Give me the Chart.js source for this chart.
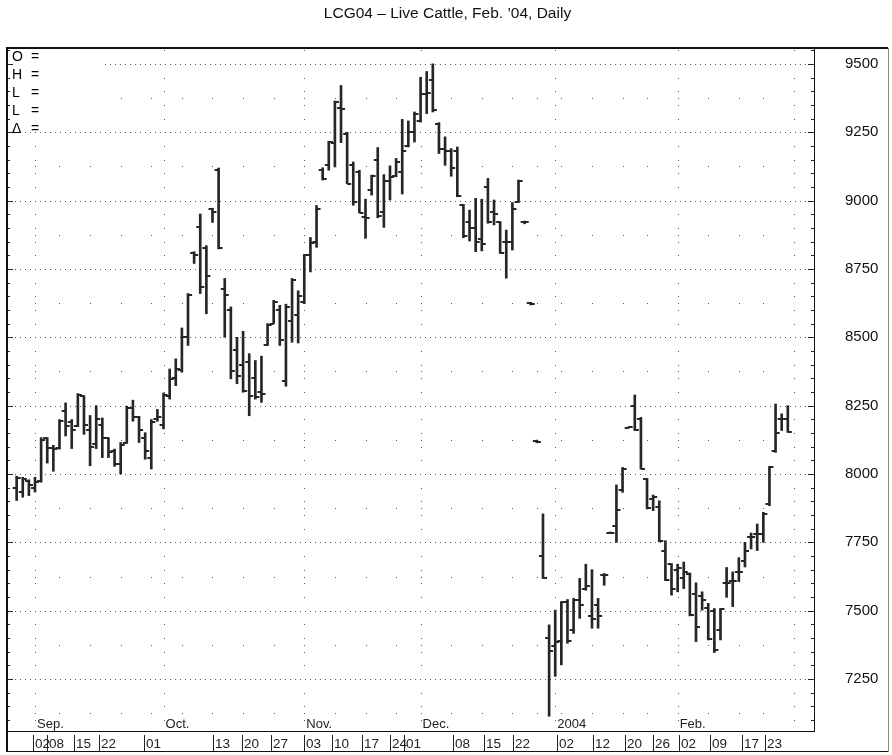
<!DOCTYPE html>
<html><head><meta charset="utf-8">
<script src="https://cdn.jsdelivr.net/npm/chart.js@4.4.0/dist/chart.umd.min.js"></script>
<style>html,body{margin:0;padding:0;background:#fff;}canvas{display:block;}</style>
</head><body>
<canvas id="c" width="892" height="755"></canvas>
<script>
// ---------- data ----------
const dates = [
 '2003-08-27','2003-08-28','2003-08-29',
 '2003-09-02','2003-09-03','2003-09-04','2003-09-05','2003-09-08','2003-09-09','2003-09-10','2003-09-11','2003-09-12','2003-09-15','2003-09-16','2003-09-17','2003-09-18','2003-09-19','2003-09-22','2003-09-23','2003-09-24','2003-09-25','2003-09-26','2003-09-29','2003-09-30',
 '2003-10-01','2003-10-02','2003-10-03','2003-10-06','2003-10-07','2003-10-08','2003-10-09','2003-10-10','2003-10-13','2003-10-14','2003-10-15','2003-10-16','2003-10-17','2003-10-20','2003-10-21','2003-10-22','2003-10-23','2003-10-24','2003-10-27','2003-10-28','2003-10-29','2003-10-30','2003-10-31',
 '2003-11-03','2003-11-04','2003-11-05','2003-11-06','2003-11-07','2003-11-10','2003-11-11','2003-11-12','2003-11-13','2003-11-14','2003-11-17','2003-11-18','2003-11-19','2003-11-20','2003-11-21','2003-11-24','2003-11-25','2003-11-26','2003-11-28',
 '2003-12-01','2003-12-02','2003-12-03','2003-12-04','2003-12-05','2003-12-08','2003-12-09','2003-12-10','2003-12-11','2003-12-12','2003-12-15','2003-12-16','2003-12-17','2003-12-18','2003-12-19','2003-12-22','2003-12-23','2003-12-24','2003-12-26','2003-12-29','2003-12-30','2003-12-31',
 '2004-01-02','2004-01-05','2004-01-06','2004-01-07','2004-01-08','2004-01-09','2004-01-12','2004-01-13','2004-01-14','2004-01-15','2004-01-16','2004-01-20','2004-01-21','2004-01-22','2004-01-23','2004-01-26','2004-01-27','2004-01-28','2004-01-29','2004-01-30',
 '2004-02-02','2004-02-03','2004-02-04','2004-02-05','2004-02-06','2004-02-09','2004-02-10','2004-02-11','2004-02-12','2004-02-13','2004-02-17','2004-02-18','2004-02-19','2004-02-20','2004-02-23','2004-02-24','2004-02-25','2004-02-26','2004-02-27'
];
const opens = [
 7950,7935,7975,7950,7975,8130,8095,8095,8230,8190,8175,8285,8160,8110,8180,8130,8085,8035,8115,8240,8210,8130,8060,8200,
 8180,8285,8350,8380,8500,8810,8902,8825,8970,9110,8678,8600,8452,8400,8409,8350,8300,8470,8550,8600,8340,8560,8580,
 8630,8800,8850,9110,9130,9212,9340,9245,9130,9105,8940,9040,9150,8960,9070,9090,9105,9200,9250,
 9290,9390,9440,9280,9190,9180,9180,8985,8920,8900,8860,9050,8960,8920,8850,8850,8995,8920,8625,8120,7700,7400,
 7370,7390,7530,7430,7540,7580,7480,7520,7630,7785,7810,7940,8170,8250,8200,7980,7910,7880,7720,7670,
 7650,7620,7636,7560,7555,7510,7500,7430,7600,7610,7640,7680,7770,7780,7780,7890,8085,8200,8200
];
const highs = [
 7992,7988,7979,7988,8133,8133,8105,8199,8260,8199,8294,8286,8214,8250,8205,8133,8091,8115,8248,8270,8211,8151,8199,8236,
 8296,8384,8421,8534,8660,8813,8951,8835,8972,9119,8715,8611,8500,8522,8440,8415,8431,8550,8635,8617,8621,8715,8670,
 8803,8865,8982,9120,9217,9364,9421,9250,9141,9111,9005,9093,9194,9095,9127,9154,9297,9291,9324,
 9451,9472,9500,9285,9233,9190,9196,8986,8965,9008,9005,9081,9002,8923,8892,8993,9075,8925,8628,8124,7854,7448,
 7502,7533,7541,7545,7618,7670,7650,7545,7636,7788,7960,8024,8173,8289,8207,7984,7923,7902,7756,7672,
 7670,7678,7638,7602,7569,7527,7508,7508,7658,7642,7694,7750,7784,7817,7860,8028,8256,8220,8250
];
const lows = [
 7903,7915,7921,7934,7970,8040,8010,8091,8139,8093,8173,8145,8030,8093,8060,8060,8028,8000,8112,8193,8115,8054,8018,8193,
 8165,8274,8323,8372,8470,8770,8660,8586,8920,8823,8500,8348,8330,8299,8213,8274,8262,8470,8550,8470,8321,8482,8479,
 8623,8739,8829,9075,9111,9123,9212,9062,8983,8955,8862,9020,8937,8902,9002,9087,9024,9196,9214,
 9287,9318,9324,9172,9129,9089,9014,8864,8852,8813,8816,8917,8911,8807,8716,8819,8993,8915,8618,8114,7618,7114,
 7260,7302,7381,7417,7472,7575,7436,7436,7593,7782,7750,7933,8168,8159,8018,7872,7866,7752,7610,7557,
 7569,7581,7481,7387,7502,7393,7347,7393,7549,7515,7606,7660,7726,7720,7750,7884,8079,8159,8152
];
const closes = [
 7985,7982,7960,7970,8125,8095,8090,8195,8175,8160,8290,8180,8100,8200,8130,8080,8035,8105,8240,8210,8160,8085,8190,8210,
 8290,8348,8384,8500,8655,8800,8684,8723,8960,8825,8654,8378,8360,8305,8287,8280,8293,8545,8630,8490,8610,8710,8650,
 8800,8845,8970,9080,9214,9360,9336,9062,8995,8955,8935,9090,8945,9070,9085,9140,9180,9250,9315,
 9390,9395,9330,9190,9180,9120,9015,8870,8900,8850,8840,8920,8950,8810,8850,8970,9070,8920,8622,8118,7618,7354,
 7385,7530,7390,7540,7520,7590,7470,7480,7630,7785,7870,8020,8171,8160,8020,7875,7915,7755,7612,7580,
 7655,7640,7483,7440,7540,7395,7355,7505,7600,7610,7640,7720,7770,7780,7855,8025,8150,8200,8152
];
const yTickVals = [7250,7500,7750,8000,8250,8500,8750,9000,9250,9500];
const monthStartIdx = [3,24,47,66,88,108,127];
const monthLabels = ['Sep.','Oct.','Nov.','Dec.','2004','Feb.',''];
const weekLabels = ['02','08','15','22','01','13','20','27','03','10','17','24','01','08','15','22','02','12','20','26','02','09','17','23'];
const weekLabelPos = [2.7,4.9,9.4,13.5,20.8,32.1,36.9,41.5,47.0,51.6,56.4,61.0,63.3,71.3,76.4,81.1,88.3,94.2,99.4,104.0,108.3,113.3,118.5,122.3];
const legendRows = ['O','H','L','L','\u0394'];
const titleText = 'LCG04 \u2013 Live Cattle, Feb. \u201904, Daily';

// ---------- derived ----------
const idx = dates.map((d, i) => i);
const dayNum = dates.map(d => new Date(d + 'T00:00:00Z').getTime() / 86400000);
const weekStarts = idx.filter(i => i > 0 && dayNum[i] - dayNum[i - 1] >= 3);

const INK = '#262626';
const GRID = '#5a5a5a';
const FONT = '"Liberation Sans", Arial, Helvetica, sans-serif';

function tickImage(side) {
  const c = document.createElement('canvas');
  c.width = 10; c.height = 2;
  const g = c.getContext('2d');
  g.fillStyle = INK;
  if (side === 'L') g.fillRect(1, 0, 4, 2); else g.fillRect(5, 0, 4, 2);
  return c;
}

const decor = {
  id: 'decor',
  beforeDatasetsDraw(chart) {
    const {ctx, chartArea: a, scales: {x, y}} = chart;
    ctx.save();
    ctx.fillStyle = GRID;
    for (const v of yTickVals) {
      const py = Math.round(y.getPixelForValue(v));
      for (let px = a.left + 3; px < a.right - 1; px += 5) ctx.fillRect(px, py, 1, 1);
    }
    for (let v = yTickVals[0] - 125; v < y.max; v += 250) {
      if (v <= y.min) continue;
      const py = Math.round(y.getPixelForValue(v));
      for (const j of weekStarts) ctx.fillRect(Math.round(x.getPixelForValue(j)), py, 1, 1);
    }
    const v0 = Math.ceil(y.min / 50) * 50;
    for (const j of monthStartIdx) {
      const px = Math.round(x.getPixelForValue(j));
      for (let v = v0; v < y.max; v += 50) {
        if (v % 250 === 0) continue;
        ctx.fillRect(px, Math.round(y.getPixelForValue(v)), 1, 1);
      }
    }
    // legend box
    ctx.fillStyle = '#fff';
    ctx.fillRect(a.left + 1, a.top + 1, 93, 80);
    // inward axis ticks
    ctx.fillStyle = INK;
    for (let v = v0; v < y.max; v += 50) {
      const py = Math.round(y.getPixelForValue(v));
      const len = v % 250 === 0 ? 6 : 3;
      ctx.fillRect(a.right - len, py, len, 1);
      ctx.fillRect(a.left, py, len, 1);
    }
    ctx.restore();
  },
  afterDatasetsDraw(chart) {
    const {ctx, chartArea: a, scales: {x, y}, width: W, height: H} = chart;
    ctx.save();
    // frame
    ctx.fillStyle = '#111';
    ctx.fillRect(a.left - 1, a.top - 1, W - 4 - a.left + 1, 2);
    ctx.fillRect(a.left - 1, a.top - 1, 2, H - 3 - a.top + 1);
    ctx.fillRect(a.left, a.bottom, a.right - a.left + 1, 1);
    ctx.fillRect(a.right, a.top, 1, a.bottom - a.top);
    ctx.fillRect(a.left, H - 4, W - 4 - a.left, 1);
    ctx.fillStyle = '#8a8a8a';
    ctx.fillRect(W - 4, a.top, 1, H - 4 - a.top + 1);
    // legend text
    ctx.fillStyle = '#000';
    ctx.font = '14px ' + FONT;
    ctx.textBaseline = 'middle';
    legendRows.forEach((t, k) => {
      const py = a.top + 9 + 18 * k;
      ctx.fillText(t, a.left + 5, py);
      ctx.fillText('=', a.left + 24, py);
    });
    // month labels
    ctx.font = '13px ' + FONT;
    ctx.textBaseline = 'alphabetic';
    ctx.fillStyle = '#222';
    monthStartIdx.forEach((j, k) => {
      if (!monthLabels[k]) return;
      ctx.fillText(monthLabels[k], x.getPixelForValue(j) + 2, a.bottom - 3);
    });
    // date strip
    ctx.font = '13.5px ' + FONT;
    weekLabels.forEach((t, k) => {
      const px = Math.round(x.getPixelForValue(weekLabelPos[k]));
      ctx.fillStyle = '#222';
      ctx.fillRect(px, a.bottom + 4, 1, 16);
      ctx.fillText(t, px + 2, a.bottom + 17);
    });
    ctx.restore();
  }
};

const hl = idx.map(i => ({x: i, y: [lows[i], highs[i]]}));
const op = idx.map(i => ({x: i, y: opens[i]}));
const cl = idx.map(i => ({x: i, y: closes[i]}));

new Chart(document.getElementById('c'), {
  type: 'bar',
  data: {
    datasets: [
      {type: 'bar', data: hl, backgroundColor: INK, barThickness: 2, grouped: false, borderWidth: 0, order: 2},
      {type: 'line', data: op, showLine: false, pointStyle: tickImage('L'), pointRadius: 3, order: 1},
      {type: 'line', data: cl, showLine: false, pointStyle: tickImage('R'), pointRadius: 3, order: 1}
    ]
  },
  options: {
    responsive: false,
    animation: false,
    devicePixelRatio: 1,
    layout: {padding: {left: 7, right: 4, top: 0, bottom: 24}},
    plugins: {
      legend: {display: false},
      tooltip: {enabled: false},
      title: {display: true, text: titleText, color: '#111', font: {family: FONT, size: 15.5, weight: 'normal'}, padding: {top: 4, bottom: 25.4}}
    },
    scales: {
      x: {type: 'linear', min: -1.575, max: 130.28, offset: false, display: false},
      y: {
        position: 'right', min: 7060, max: 9558,
        afterBuildTicks: s => { s.ticks = yTickVals.map(v => ({value: v})); },
        afterFit: s => { s.width = 74; },
        grid: {display: false, drawTicks: true, tickLength: 28},
        border: {display: false},
        ticks: {padding: 3, color: '#111', font: {family: FONT, size: 15}, callback: v => String(v)}
      }
    }
  },
  plugins: [decor]
});
</script>
</body></html>
